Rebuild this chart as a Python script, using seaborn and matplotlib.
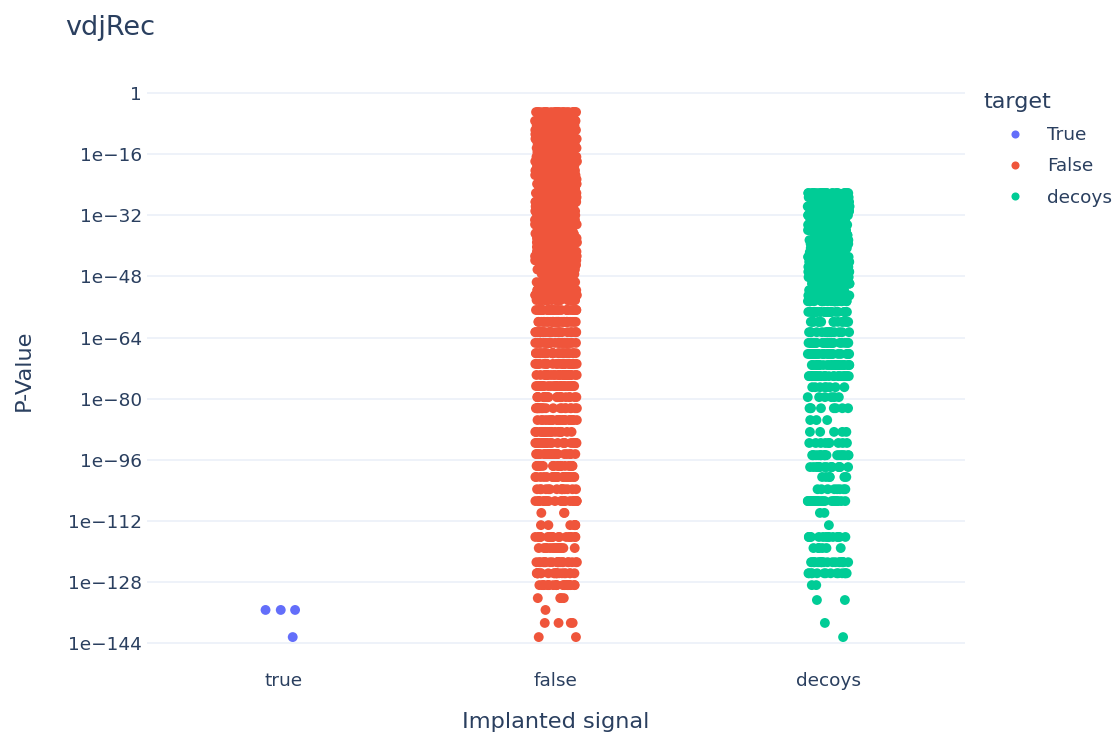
import numpy as np
import pandas as pd
import matplotlib
matplotlib.use("Agg")
import matplotlib.pyplot as plt
from matplotlib.ticker import NullLocator
import seaborn as sns

# Categories on the x axis and the target classes used for colouring
signal_order = ["true", "false", "decoys"]
target_order = ["True", "False", "decoys"]
palette = ["#636EFA", "#EF553B", "#00CC96"]

# -log10(P-value) levels of each group and the number of results at each level
true_neglog_p = [135.3, 142.4]
true_counts = [3, 1]

false_neglog_p = [5.0, 6.2, 7.3, 8.5, 9.7, 10.8, 12.0, 13.2, 14.4, 15.5,
                  16.7, 17.9, 19.1, 20.3, 21.5, 22.6, 23.8, 25.0, 26.2, 27.3,
                  28.5, 29.7, 30.9, 32.0, 33.2, 34.4, 35.6, 36.8, 38.0, 39.1,
                  40.3, 41.5, 42.7, 43.8, 45.0, 46.2, 47.4, 49.5, 51.6, 52.9,
                  54.2,
                  56.8, 59.9, 62.6, 65.4, 68.1, 70.9, 73.8, 76.7, 79.6, 82.5,
                  85.6, 88.7, 91.6, 94.5, 97.6, 100.5, 103.7, 106.8, 109.9, 113.1,
                  116.2, 119.1, 122.8, 125.7, 128.8, 132.2, 135.3, 138.7, 142.4]
false_counts = [25, 25, 25, 25, 25, 25, 25, 25, 25, 25,
                25, 25, 25, 25, 25, 25, 25, 25, 25, 25,
                25, 25, 25, 25, 25, 25, 25, 25, 25, 25,
                25, 25, 25, 25, 25, 25, 25, 25, 25, 25,
                25,
                30, 30, 28, 28, 28, 28, 28, 26, 20, 20,
                26, 20, 22, 26, 22, 22, 14, 22, 3, 7,
                20, 14, 22, 20, 22, 4, 1, 4, 2]

decoy_neglog_p = [26.2, 27.3, 28.5, 29.7, 30.9, 32.0, 33.2, 34.5, 35.9, 37.2,
                  38.5, 39.5, 40.6, 41.7, 42.9, 44.2, 45.5, 46.8, 48.2, 49.9,
                  51.6, 53.0, 54.5,
                  57.3, 59.9, 62.6, 65.4, 68.3, 71.2, 74.1, 77.0, 79.6, 82.5,
                  85.6, 88.7, 91.6, 94.8, 97.9, 100.5, 103.7, 106.8, 109.9, 113.1,
                  116.2, 119.1, 122.8, 125.7, 128.8, 132.7, 138.7, 142.4]
decoy_counts = [25, 25, 25, 25, 25, 25, 25, 25, 25, 25,
                25, 25, 25, 25, 25, 25, 25, 25, 25, 25,
                25, 25, 25,
                28, 14, 16, 28, 26, 26, 26, 8, 6, 8,
                3, 5, 9, 20, 16, 6, 8, 22, 2, 1,
                14, 6, 22, 14, 2, 2, 1, 1]

# y-axis ticks (powers of ten) and their labels
tick_exponents = [0, 16, 32, 48, 64, 80, 96, 112, 128, 144]
tick_labels = ["1", "1e\u221216", "1e\u221232", "1e\u221248", "1e\u221264",
               "1e\u221280", "1e\u221296", "1e\u2212112", "1e\u2212128", "1e\u2212144"]


def expand(signal, target, levels, counts):
    neglog = np.repeat(np.asarray(levels, dtype=float), counts)
    return pd.DataFrame({"Implanted signal": signal,
                         "target": target,
                         "P-Value": 10.0 ** (-neglog)})


df = pd.concat([
    expand("true", "True", true_neglog_p, true_counts),
    expand("false", "False", false_neglog_p, false_counts),
    expand("decoys", "decoys", decoy_neglog_p, decoy_counts),
], ignore_index=True)

sns.set_style("white")
plt.rcParams["font.family"] = ["DejaVu Sans"]
text_color = "#2a3f5f"

fig = plt.figure(figsize=(11.19, 7.38), dpi=100)
ax = fig.add_axes([147 / 1119, 1 - 660 / 738, 818 / 1119, 580 / 738])

np.random.seed(7)
sns.stripplot(data=df, x="Implanted signal", y="P-Value", hue="target",
              order=signal_order, hue_order=target_order, palette=palette,
              jitter=0.077, size=7.1, linewidth=0, dodge=False, ax=ax,
              legend=True)

ax.set_yscale("log")
ax.set_ylim(10.0 ** -148.4, 10.0 ** 3.4)
ax.set_xlim(-0.5, 2.5)
ax.set_yticks([10.0 ** (-e) for e in tick_exponents])
ax.set_yticklabels(tick_labels)
ax.yaxis.set_minor_locator(NullLocator())

ax.grid(axis="y", color="#EBF0F8", linewidth=1.2)
ax.grid(axis="x", visible=False)
ax.set_axisbelow(True)
for spine in ax.spines.values():
    spine.set_visible(False)
ax.tick_params(axis="both", length=0, labelsize=13.3, labelcolor=text_color)
ax.tick_params(axis="y", pad=3.6)
ax.tick_params(axis="x", pad=8.7)

ax.set_xlabel("")
ax.set_ylabel("")
fig.text(556 / 1119, 1 - 722 / 738, "Implanted signal", fontsize=16.2,
         color=text_color, ha="center", va="center")
fig.text(24 / 1119, 1 - 370 / 738, "P-Value", fontsize=16.2, rotation=90,
         color=text_color, ha="center", va="center")
fig.text(65 / 1119, 1 - 28 / 738, "vdjRec", fontsize=19.5, color=text_color,
         ha="left", va="center")

sns.move_legend(ax, "upper left", bbox_to_anchor=(1006 / 1119, 1 - 126 / 738),
                bbox_transform=fig.transFigure, title=None, frameon=False,
                borderpad=0, borderaxespad=0, handlelength=1.0,
                handletextpad=1.24, labelspacing=0.72, fontsize=13.3,
                labelcolor=text_color, markerscale=0.82)
fig.text(983 / 1119, 1 - 102 / 738, "target", fontsize=16, color=text_color,
         ha="left", va="center")

fig.savefig("out.png", dpi=100)
